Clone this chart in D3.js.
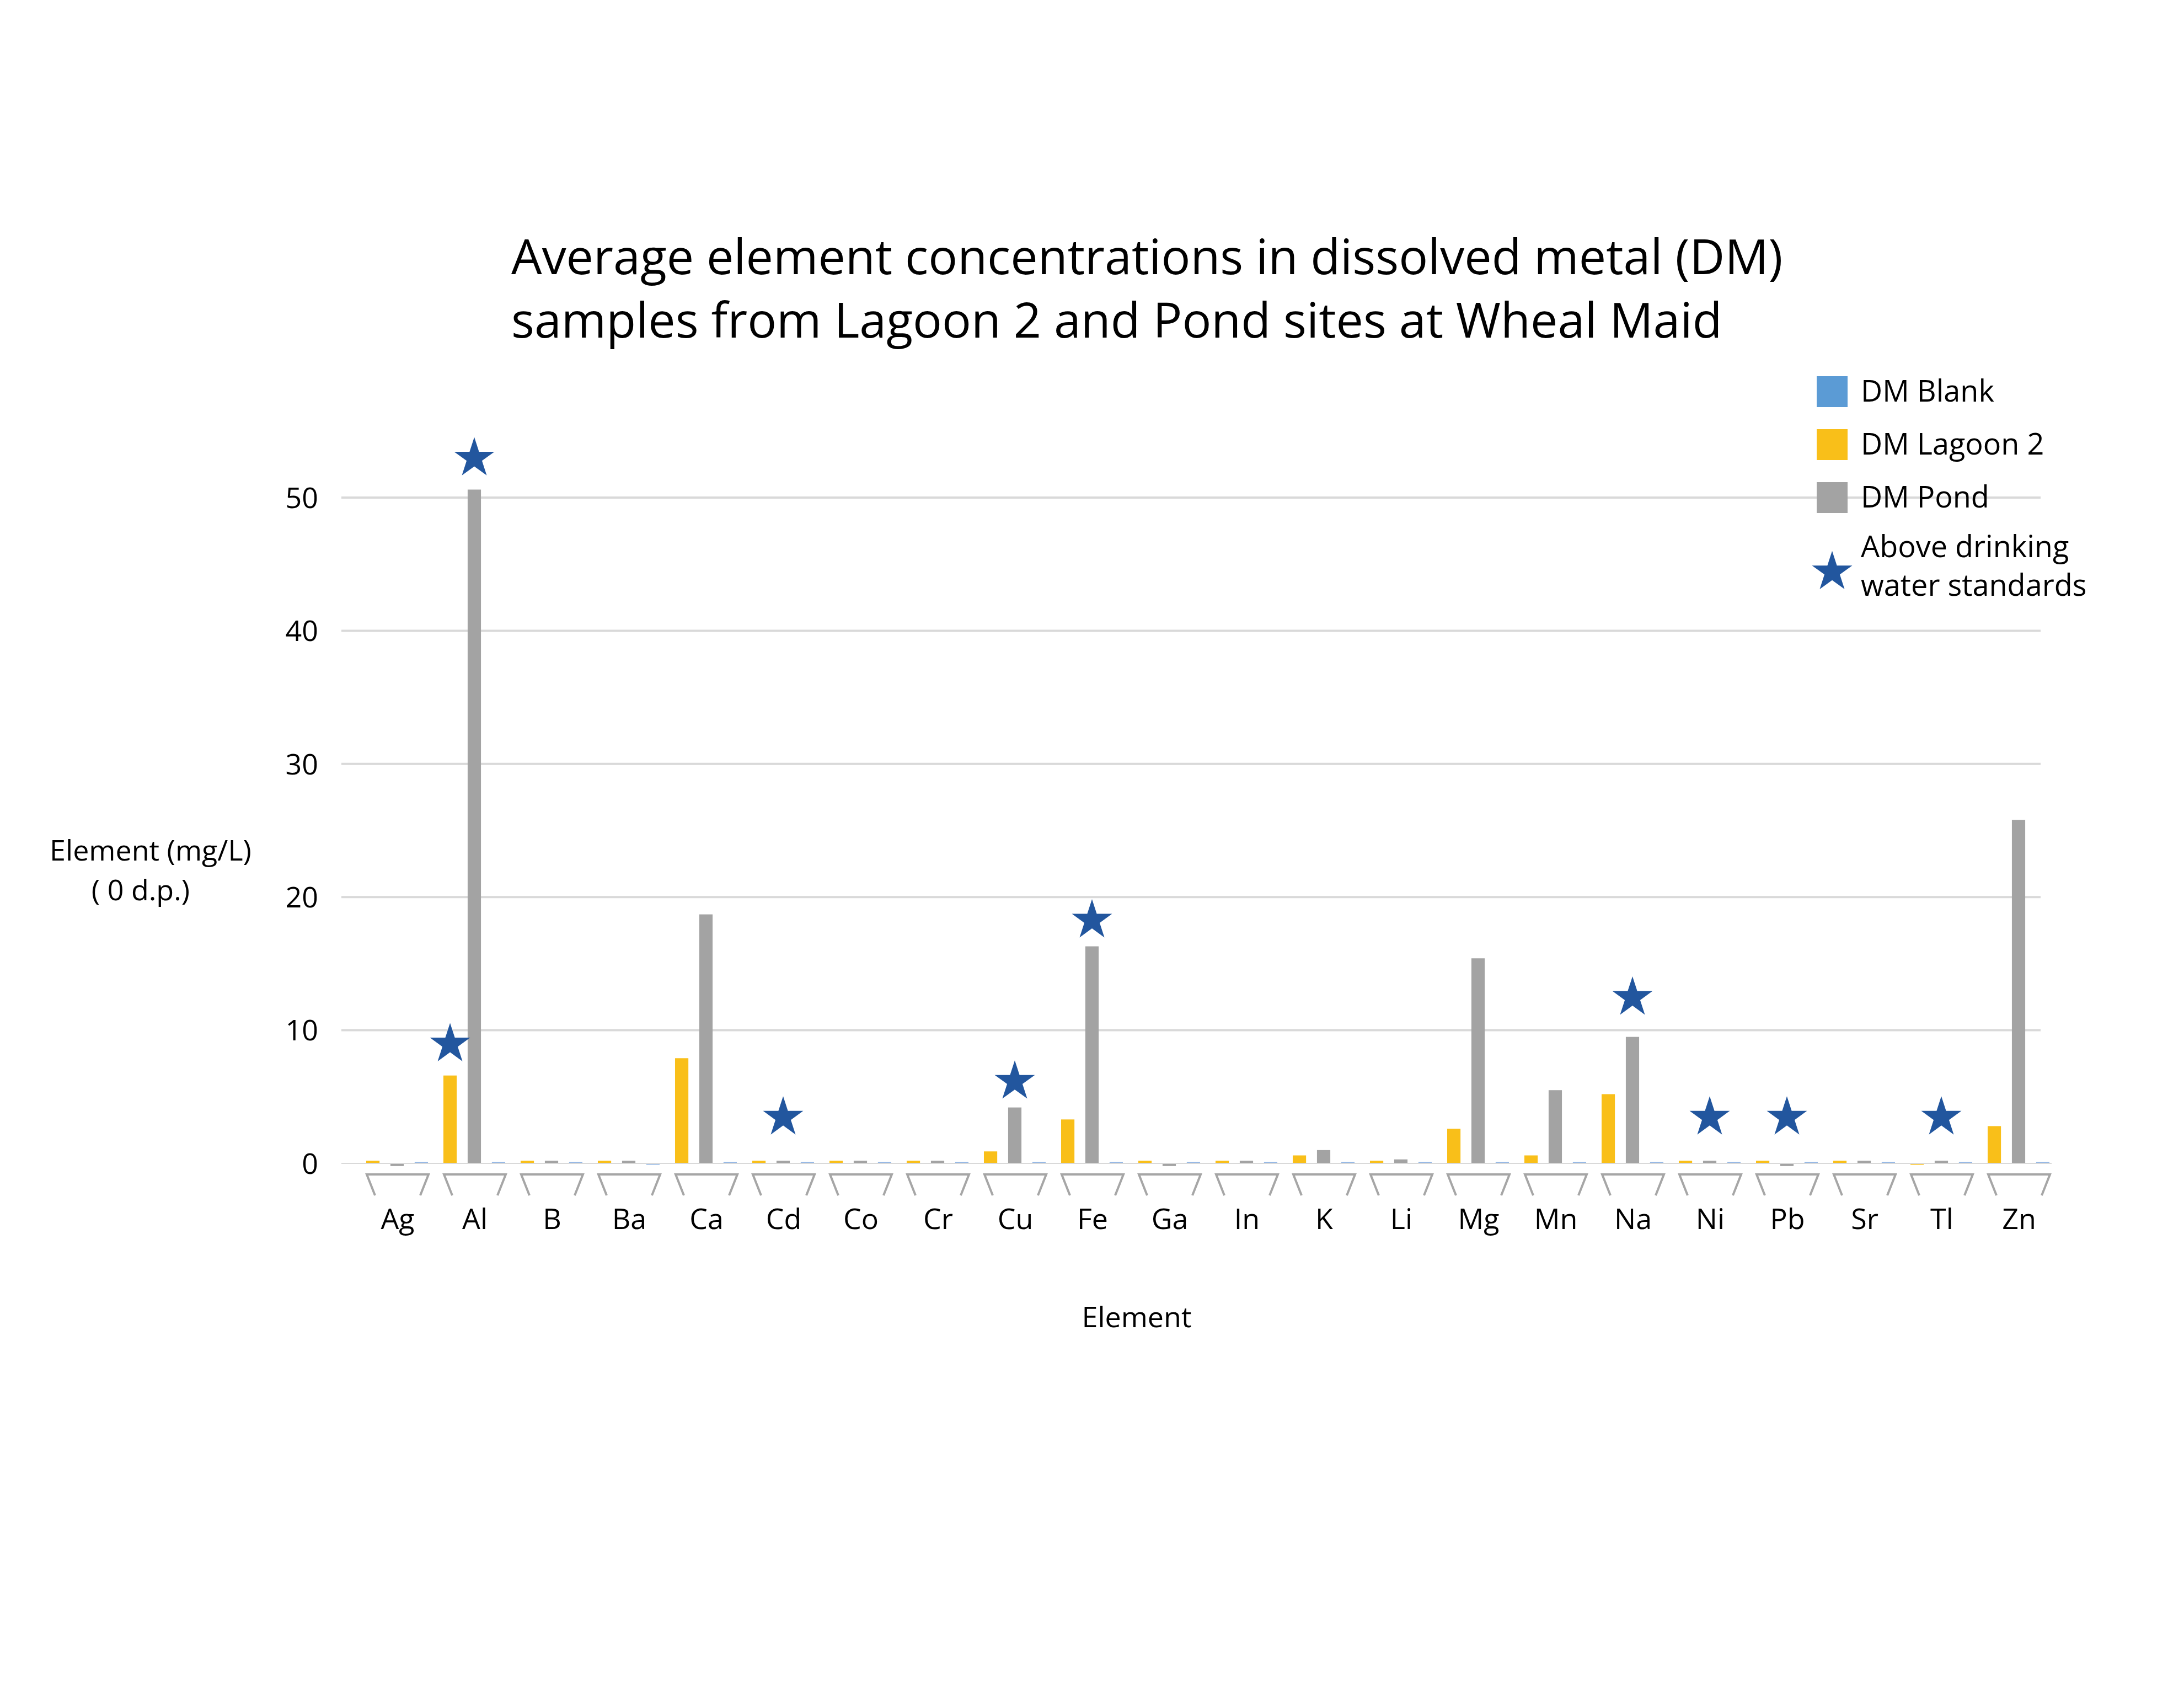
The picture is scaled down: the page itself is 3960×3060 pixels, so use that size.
<!DOCTYPE html>
<html>
<head>
<meta charset="utf-8">
<script src="https://cdn.jsdelivr.net/npm/d3@7"></script>
<style>
  body { margin: 0; background: #fff; }
  svg { font-family: 'Open Sans', sans-serif; }
</style>
</head>
<body>
<svg id="chart" width="3960" height="3060"></svg>
<script>
const elements = ['Ag','Al','B','Ba','Ca','Cd','Co','Cr','Cu','Fe','Ga','In','K','Li','Mg','Mn','Na','Ni','Pb','Sr','Tl','Zn'];
const seriesNames = ['DM Lagoon 2', 'DM Pond', 'DM Blank'];
const lagoon = [0.2, 6.6, 0.2, 0.2, 7.9, 0.2, 0.2, 0.2, 0.9, 3.3, 0.2, 0.2, 0.6, 0.2, 2.6, 0.6, 5.2, 0.2, 0.2, 0.2, -0.1, 2.8];
const pond = [-0.2, 50.6, 0.2, 0.2, 18.7, 0.2, 0.2, 0.2, 4.2, 16.3, -0.2, 0.2, 1.0, 0.3, 15.4, 5.5, 9.5, 0.2, -0.2, 0.2, 0.2, 25.8];
const blank = [0.1, 0.1, 0.1, -0.1, 0.1, 0.1, 0.1, 0.1, 0.1, 0.1, 0.1, 0.1, 0.1, 0.1, 0.1, 0.1, 0.1, 0.1, 0.1, 0.1, 0.1, 0.1];
// stars: element, series it sits over, value
const stars = [
  { el: 'Al', s: 'DM Lagoon 2', v: 9.2 },
  { el: 'Al', s: 'DM Pond', v: 53.2 },
  { el: 'Cd', s: 'DM Pond', v: 3.7 },
  { el: 'Cu', s: 'DM Pond', v: 6.4 },
  { el: 'Fe', s: 'DM Pond', v: 18.5 },
  { el: 'Na', s: 'DM Pond', v: 12.7 },
  { el: 'Ni', s: 'DM Pond', v: 3.7 },
  { el: 'Pb', s: 'DM Pond', v: 3.7 },
  { el: 'Tl', s: 'DM Pond', v: 3.7 },
];
const yTicks = [0, 10, 20, 30, 40, 50];

const colors = { 'DM Blank': '#5b9bd5', 'DM Lagoon 2': '#f9bf19', 'DM Pond': '#a3a3a3' };
const tinyBlank = '#8fb4e3';
const starColor = '#22569e';

const svg = d3.select('#chart');
const x0 = d3.scaleBand().domain(elements).range([651, 3731]);
const x1 = d3.scaleBand().domain(seriesNames).range([2, 136]).paddingInner(0.45).paddingOuter(0.25);
const y = d3.scaleLinear().domain([0, 50]).range([2109, 902]);

// title
svg.append('text').attr('x', 927).attr('y', 497).attr('font-size', 88)
  .text('Average element concentrations in dissolved metal (DM)');
svg.append('text').attr('x', 927).attr('y', 612).attr('font-size', 88)
  .text('samples from Lagoon 2 and Pond sites at Wheal Maid');

// grid
svg.append('g').selectAll('line').data(yTicks.filter((t) => t > 0)).join('line')
  .attr('x1', 619).attr('x2', 3700)
  .attr('y1', (d) => y(d)).attr('y2', (d) => y(d))
  .attr('stroke', '#d9d9d9').attr('stroke-width', 4);

// y axis labels
const yAxis = svg.append('g').attr('transform', 'translate(577,0)')
  .call(d3.axisLeft(y).tickValues(yTicks).tickSize(0).tickPadding(0));
yAxis.select('.domain').remove();
yAxis.selectAll('text').attr('font-size', 52).attr('fill', '#000')
  .attr('font-family', "'Open Sans', sans-serif").attr('dy', '0.35em');

// y title
svg.append('text').attr('x', 273).attr('y', 1560).attr('text-anchor', 'middle').attr('font-size', 52).text('Element (mg/L)');
svg.append('text').attr('x', 255).attr('y', 1632).attr('text-anchor', 'middle').attr('font-size', 52).text('( 0 d.p.)');

// bars
const rows = elements.map((el, i) => ({ el, vals: { 'DM Lagoon 2': lagoon[i], 'DM Pond': pond[i], 'DM Blank': blank[i] } }));
const groups = svg.append('g').selectAll('g').data(rows).join('g')
  .attr('transform', (d) => `translate(${x0(d.el)},0)`);
groups.selectAll('rect').data((d) => seriesNames.map((s) => ({ s, v: d.vals[s] }))).join('rect')
  .attr('x', (d) => x1(d.s))
  .attr('width', x1.bandwidth())
  .attr('y', (d) => Math.min(y(d.v), y(0)))
  .attr('height', (d) => Math.abs(y(d.v) - y(0)))
  .attr('fill', (d) => (d.s === 'DM Blank' ? tinyBlank : colors[d.s]));

// zero line
svg.append('line').attr('x1', 619).attr('x2', 3720).attr('y1', y(0)).attr('y2', y(0))
  .attr('stroke', '#d9d9d9').attr('stroke-width', 2);

// category trapezoids + labels
const cat = svg.append('g').selectAll('g').data(elements).join('g')
  .attr('transform', (d) => `translate(${x0(d) + x0.bandwidth() / 2},0)`);
cat.append('path')
  .attr('d', 'M-41,2167 L-56,2129 L56,2129 L41,2167')
  .attr('fill', 'none').attr('stroke', '#a6a6a6').attr('stroke-width', 4);
cat.append('text').attr('y', 2228).attr('text-anchor', 'middle').attr('font-size', 52).text((d) => d);

svg.append('text').attr('x', 2061).attr('y', 2406).attr('text-anchor', 'middle').attr('font-size', 52).text('Element');

// stars
const star = d3.symbol().type(d3.symbolStar).size(1650);
svg.append('g').selectAll('path').data(stars).join('path')
  .attr('d', star)
  .attr('transform', (d) => `translate(${x0(d.el) + x1(d.s) + x1.bandwidth() / 2},${y(d.v) + 6})`)
  .attr('fill', starColor);

// legend
const legendItems = ['DM Blank', 'DM Lagoon 2', 'DM Pond'];
const lg = svg.append('g');
legendItems.forEach((name, i) => {
  const cy = 710 + i * 96;
  lg.append('rect').attr('x', 3294).attr('y', cy - 28).attr('width', 56).attr('height', 56).attr('fill', colors[name]);
  lg.append('text').attr('x', 3374).attr('y', cy + 18).attr('font-size', 54).text(name);
});
lg.append('path').attr('d', star).attr('transform', 'translate(3322,1037)').attr('fill', starColor);
lg.append('text').attr('x', 3374).attr('y', 1010).attr('font-size', 54).text('Above drinking');
lg.append('text').attr('x', 3374).attr('y', 1080).attr('font-size', 54).text('water standards');
</script>
</body>
</html>
